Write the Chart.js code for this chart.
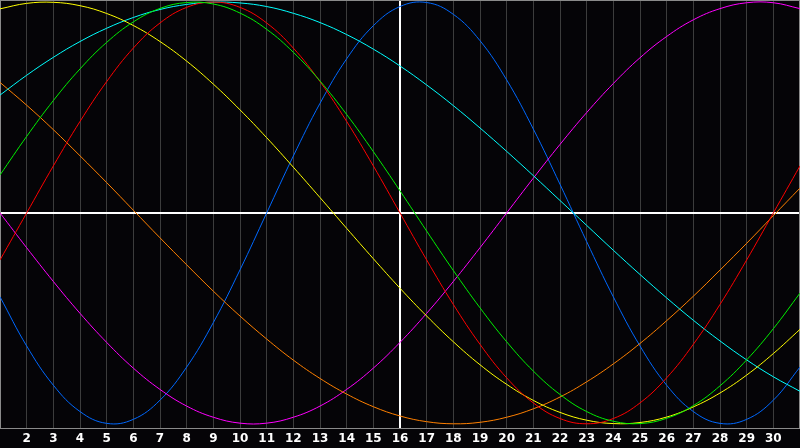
<!DOCTYPE html>
<html>
<head>
<meta charset="utf-8">
<script src="https://cdn.jsdelivr.net/npm/chart.js@4/dist/chart.umd.min.js"></script>
<style>
  html, body { margin: 0; padding: 0; background: #050407; }
  #wrap { width: 800px; height: 448px; }
</style>
</head>
<body>
<div id="wrap"><canvas id="bio"></canvas></div>
<script>
// days shown on the chart (1 and 31 sit on the frame, no label)
const days = [1,2,3,4,5,6,7,8,9,10,11,12,13,14,15,16,17,18,19,20,21,22,23,24,25,26,27,28,29,30,31];
// the "today" day, drawn with a white line
const TODAY = 16;

// cycle values in percent, one per day
const physical     = [-39.8,-63.1,-81.7,-94.2,-99.8,-97.9,-88.8,-73.1,-52.0,-27.0,0,27.0,52.0,73.1,88.8,97.9,99.8,94.2,81.7,63.1,39.8,13.6,-13.6,-39.8,-63.1,-81.7,-94.2,-99.8,-97.9,-88.8,-73.1];
const emotional    = [-22.3,0,22.3,43.4,62.3,78.2,90.1,97.5,100,97.5,90.1,78.2,62.3,43.4,22.3,0,-22.3,-43.4,-62.3,-78.2,-90.1,-97.5,-100,-97.5,-90.1,-78.2,-62.3,-43.4,-22.3,0,22.3];
const intellectual = [18.0,36.3,53.3,68.3,80.9,90.6,97.0,99.8,99.1,94.8,87.1,76.2,62.6,46.7,29.1,10.5,-8.6,-27.3,-45.0,-61.1,-75.0,-86.1,-94.2,-98.8,-99.9,-97.4,-91.4,-82.0,-69.7,-54.9,-38.0];
const intuitive    = [0,-16.5,-32.5,-47.6,-61.4,-73.6,-83.7,-91.6,-96.9,-99.7,-99.7,-96.9,-91.6,-83.7,-73.6,-61.4,-47.6,-32.5,-16.5,0,16.5,32.5,47.6,61.4,73.6,83.7,91.6,96.9,99.7,99.7,96.9];
const aesthetic    = [96.8,99.4,99.9,98.3,94.6,88.9,81.3,72.0,61.1,48.9,35.7,21.7,7.3,-7.3,-21.7,-35.7,-48.9,-61.1,-72.0,-81.3,-88.9,-94.6,-98.3,-99.9,-99.4,-96.8,-92.0,-85.4,-76.9,-66.7,-55.2];
const awareness    = [61.9,51.1,39.5,27.1,14.4,1.3,-11.8,-24.6,-37.1,-48.9,-59.8,-69.8,-78.5,-85.9,-91.9,-96.3,-99.0,-100,-99.3,-96.9,-92.9,-87.3,-80.1,-71.6,-61.9,-51.1,-39.5,-27.1,-14.4,-1.3,11.8];
const spiritual    = [55.9,65.3,73.8,81.3,87.6,92.7,96.5,98.9,100,99.6,97.9,94.7,90.3,84.6,77.7,69.7,60.7,50.9,40.3,29.2,17.7,5.9,-5.9,-17.7,-29.2,-40.3,-50.9,-60.7,-69.7,-77.7,-84.6];

function line(label, data, color) {
    return {
        label: label,
        data: data,
        borderColor: color,
        borderWidth: 1,
        pointRadius: 0,
        pointHoverRadius: 0,
        tension: 0.4,
        fill: false
    };
}

//Black background and the grey frame round the plot
const framePlugin = {
    id: 'frame',
    beforeDraw(chart) {
        let ctx = chart.ctx;
        ctx.save();
        ctx.fillStyle = '#050407';
        ctx.fillRect(0, 0, chart.width, chart.height);
        ctx.restore();
    },
    beforeDatasetsDraw(chart) {
        let a = chart.chartArea;
        let ctx = chart.ctx;
        ctx.save();
        ctx.strokeStyle = '#8a8a8a';
        ctx.lineWidth = 1;
        ctx.strokeRect(a.left + 0.5, a.top + 0.5, a.right - a.left - 1, a.bottom - a.top);
        ctx.restore();
    }
};

new Chart(document.getElementById('bio'), {
    type: 'line',
    data: {
        labels: days,
        datasets: [
            line('Intellectual', intellectual, '#00f000'),
            line('Emotional', emotional, '#ff0000'),
            line('Aesthetic', aesthetic, '#ffff00'),
            line('Spiritual', spiritual, '#00ffff'),
            line('Awareness', awareness, '#ff8000'),
            line('Intuitive', intuitive, '#ff00ff'),
            line('Physical', physical, '#0068ff')
        ]
    },
    plugins: [framePlugin],
    options: {
        responsive: true,
        maintainAspectRatio: false,
        animation: false,
        layout: { padding: 0, autoPadding: false },
        plugins: {
            legend: { display: false },
            tooltip: { enabled: false }
        },
        scales: {
            x: {
                offset: false,
                border: { display: false },
                //no side padding, the plot runs edge to edge
                afterFit: (axis) => {
                    axis.paddingLeft = 0;
                    axis.paddingRight = 0;
                    axis.height = 20;
                },
                grid: {
                    drawTicks: false,
                    color: (c) => {
                        let v = days[c.index];
                        if (v === TODAY) return '#ffffff';
                        if (v === days[0] || v === days[days.length - 1]) return 'rgba(0,0,0,0)';
                        return '#3c3c3c';
                    },
                    lineWidth: (c) => days[c.index] === TODAY ? 2 : 1
                },
                ticks: {
                    autoSkip: false,
                    maxRotation: 0,
                    padding: 4,
                    color: '#ffffff',
                    font: { family: 'DejaVu Sans', size: 12, weight: 'bold' },
                    callback: function (value, index) {
                        if (index === 0 || index === days.length - 1) return '';
                        return String(days[index]);
                    }
                }
            },
            y: {
                min: -102,
                max: 101,
                border: { display: false },
                afterFit: (axis) => {
                    axis.width = 0;
                    axis.paddingTop = 0;
                    axis.paddingBottom = 0;
                },
                afterBuildTicks: (axis) => {
                    axis.ticks = [{ value: -102 }, { value: 0 }, { value: 101 }];
                },
                grid: {
                    drawTicks: false,
                    color: (c) => c.tick && c.tick.value === 0 ? '#ffffff' : 'rgba(0,0,0,0)',
                    lineWidth: (c) => c.tick && c.tick.value === 0 ? 2 : 1
                },
                ticks: { display: false }
            }
        }
    }
});
</script>
</body>
</html>
